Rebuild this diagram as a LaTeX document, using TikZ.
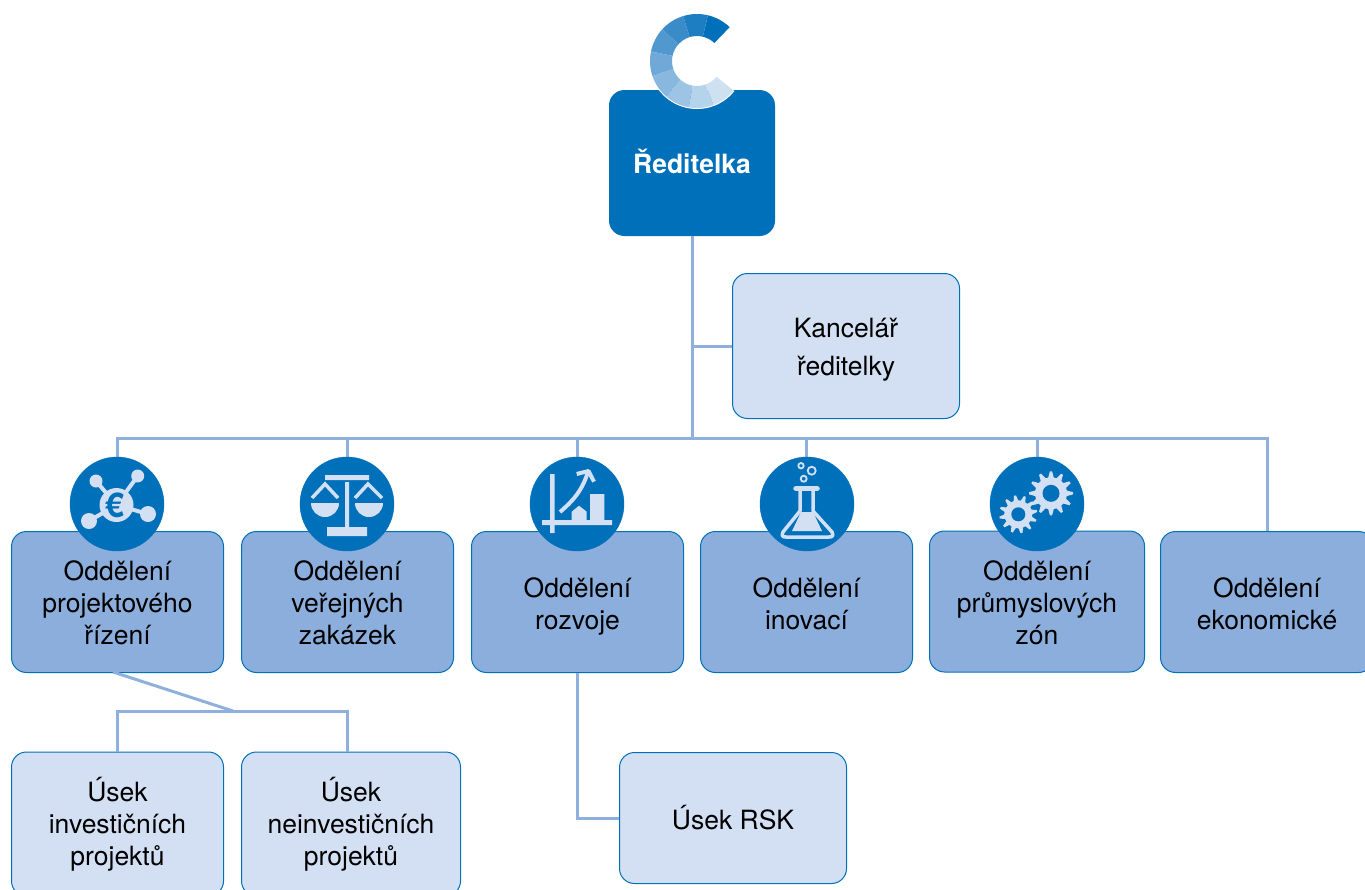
\documentclass[tikz,border=0pt]{standalone}
\usepackage{fontspec}
\setmainfont{TeX Gyre Heros}
\usepackage{xcolor}
\definecolor{modra}{HTML}{0070BA}
\definecolor{stredni}{HTML}{8CAEDC}
\definecolor{svetla}{HTML}{D3E0F3}
\definecolor{linka}{HTML}{8FB0DD}
\newcommand{\horni}[1]{\rule{0pt}{#1pt}}
\begin{document}
\begin{tikzpicture}[x=1pt,y=-1pt,
	boxbase/.style={draw=modra,line width=1pt,rounded corners=15pt,inner sep=0pt,align=center,font=\fontsize{26.5}{32}\selectfont},
	reditel/.style={boxbase,fill=modra,text=white,minimum width=165pt,minimum height=145pt,text depth=4pt,font=\fontsize{26.5}{32}\selectfont\bfseries},
	oddeleni/.style={boxbase,fill=stredni,minimum height=141pt},
	usek/.style={boxbase,fill=svetla},
	ikona/.style={circle,fill=modra,draw=modra,minimum size=94pt,inner sep=0pt},
	spoj/.style={draw=linka,line width=3pt},
	znak/.style={draw=svetla,line width=4pt}]
	\clip (0,0) rectangle (1365,889);
	% boxes
	\node[reditel] (reditelka) at (692,163) {Ředitelka};
	\node[usek,minimum width=227pt,minimum height=145pt] (kancelar) at (846,346) {\horni{27.5}Kancelář\\[6pt]ředitelky};
	\node[oddeleni,minimum width=212pt] (projekt) at (117.5,602) {\horni{22}Oddělení\\projektového\\řízení};
	\node[oddeleni,minimum width=212pt] (zakazky) at (347.5,602) {\horni{22}Oddělení\\veřejných\\zakázek};
	\node[oddeleni,minimum width=212pt] (rozvoj) at (577.5,602) {\horni{29.5}Oddělení\\rozvoje};
	\node[oddeleni,minimum width=212pt] (inovace) at (806.5,602) {\horni{23.5}Oddělení\\inovací};
	\node[oddeleni,minimum width=215pt] (zony) at (1037,601.5) {\horni{22}Oddělení\\průmyslových\\zón};
	\node[oddeleni,minimum width=213pt] (ekonom) at (1267,602) {\horni{23.5}Oddělení\\ekonomické};
	\node[usek,minimum width=212pt,minimum height=144pt] (investice) at (117.5,824) {Úsek\\investičních\\projektů};
	\node[usek,minimum width=219pt,minimum height=144pt] (neinvestice) at (351,824) {Úsek\\neinvestičních\\projektů};
	\node[usek,minimum width=227pt,minimum height=131pt] (rsk) at (733,818) {Úsek RSK};
	% connectors
	\coordinate (trunk) at (692,438);
	\coordinate (odbocka) at (113,672);
	\coordinate (vidlice) at (233,711);
	\draw[spoj] (reditelka.south) -- (trunk);
	\draw[spoj] (kancelar.west) -- (reditelka.south |- kancelar.west);
	\foreach \cil in {projekt,zakazky,rozvoj,inovace,zony,ekonom}
	\draw[spoj] (\cil.north) |- (trunk);
	\draw[spoj] (odbocka) -- (vidlice);
	\draw[spoj] (investice.north) |- (vidlice);
	\draw[spoj] ([xshift=-4pt]neinvestice.north) |- (vidlice);
	\draw[spoj] (rozvoj.south) |- (rsk.west);
	% logo
	\begin{scope}[shift={(697,61)},x=1pt,y=1pt]
	\draw[white,line width=2pt] (46:47) arc (46:321:47);
	\foreach \i/\barva in {0/0070BA,1/1D7FC2,2/3A8CC8,3/5098CE,4/70A9D8,5/88B8DE,6/9DC4E5,7/B5D3EB,8/CDE1F0} {
		\definecolor{dilek}{HTML}{\barva}
		\fill[dilek] ({46+30.56*\i}:47) arc ({46+30.56*\i}:{46+30.56*(\i+1)}:47) -- ({46+30.56*(\i+1)}:25) arc ({46+30.56*(\i+1)}:{46+30.56*\i}:25) -- cycle;
	}
	\end{scope}
	% icon circles
	\node[ikona] (ikonaA) at (117,504) {};
	\node[ikona] (ikonaB) at (347,504) {};
	\node[ikona] (ikonaC) at (577,504) {};
	\node[ikona] (ikonaD) at (807,504) {};
	\node[ikona] (ikonaE) at (1037,504) {};
	% euro
	\draw[znak] (96,481) -- (116.5,505) (137.7,476) -- (116.5,505) (148,514) -- (116.5,505) (89,521) -- (116.5,505);
	\fill[svetla] (116.5,505) circle (17) (96,481) circle (6.5) (137.7,476) circle (6.5) (148,514) circle (8) (89,521) circle (8);
	\node[text=modra,inner sep=0pt,font=\fontsize{34}{34}\selectfont\bfseries] (euro) at (115,505) {€};
	% scales
	\fill[svetla] (325,475) rectangle (369,480) (345,482) rectangle (349,527) (327,527) rectangle (367,536);
	\draw[znak,line width=3.5pt] (312,498) -- (325,484) -- (338,498) (355,498) -- (368,484) -- (382,498);
	\fill[svetla] (311,503) arc[start angle=180,end angle=0,radius=14] -- cycle;
	\fill[svetla] (355,503) arc[start angle=180,end angle=0,radius=14] -- cycle;
	% chart
	\fill[svetla] (550,474) rectangle (554.7,533) (542,520) rectangle (612,525) (590,494) rectangle (604.3,520);
	\fill[svetla] (571.7,520) -- (571.7,511.7) -- (579,505.7) -- (586.7,511.7) -- (586.7,520) -- cycle;
	\draw[znak] (560,512) .. controls (575,499) and (582,490) .. (588,472);
	\draw[znak,line join=round] (576.7,474) -- (588.5,471) -- (594,481.7);
	% flask
	\draw[znak,line width=3.5pt,line join=round] (800,491) -- (800,511) -- (783,532) .. controls (781,536) and (783,537) .. (786,537) -- (829,537) .. controls (832,537) and (834,536) .. (832,532) -- (813,511) -- (813,491);
	\draw[znak,line width=5.5pt,line cap=round] (796,488.5) -- (817,488.5);
	\fill[svetla] (801,512) -- (813,512) -- (822,531) -- (792,531) -- cycle;
	\draw[znak,line width=1.8pt] (801,465.7) circle (2.7) (811.7,470.7) circle (4) (803.7,478.7) circle (3);
	% gears
	\fill[svetla] (1051,493.3) circle (16) (1018.3,514.3) circle (14);
	\foreach \uhel in {0,30,...,330} {
		\fill[svetla,shift={(1051,493.3)},rotate=\uhel] (13,-3.5) -- (22,-1.1) -- (22,1.1) -- (13,3.5) -- cycle;
		\fill[svetla,shift={(1018.3,514.3)},rotate=\uhel+10] (11,-3) -- (19,-1) -- (19,1) -- (11,3) -- cycle;
	}
	\fill[modra] (1051,493.3) circle (8.5) (1018.3,514.3) circle (7);
\end{tikzpicture}
\end{document}
